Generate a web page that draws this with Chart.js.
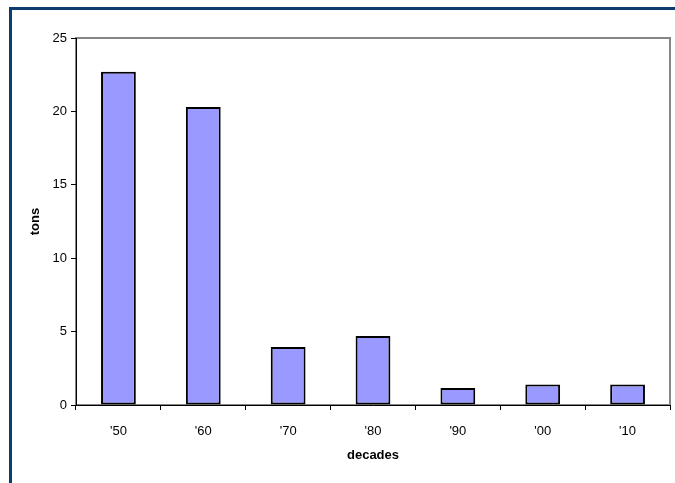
<!DOCTYPE html>
<html>
<head>
<meta charset="utf-8">
<script src="https://cdn.jsdelivr.net/npm/chart.js@4"></script>
<style>
  html, body { margin: 0; padding: 0; background: #fff; }
  #wrap { position: relative; width: 675px; height: 483px; overflow: hidden; }
  #frame { position: absolute; left: 9px; top: 7px; width: 700px; height: 500px;
           border-top: 3px solid #0b3c6e; border-left: 3px solid #0b3c6e; }
  canvas { position: absolute; left: 0; top: 0; }
</style>
</head>
<body>
<div id="wrap">
  <div id="frame"></div>
  <canvas id="chart" width="675" height="483"></canvas>
</div>
<script>
// ===== data =====
const decades = ["'50", "'60", "'70", "'80", "'90", "'00", "'10"];
const tons = [22.7, 20.3, 3.95, 4.7, 1.15, 1.4, 1.4];
const yTicks = [0, 5, 10, 15, 20, 25];

// gray box round the plot area (top + right edges show)
const plotBox = {
  id: "plotBox",
  beforeDraw(chart) {
    const { ctx, chartArea: a } = chart;
    ctx.save();
    ctx.strokeStyle = "#868686";
    ctx.lineWidth = 2;
    ctx.strokeRect(a.left, a.top, a.right - a.left, a.bottom - a.top);
    ctx.restore();
  }
};

const font = { family: "Liberation Sans, Arial, sans-serif", size: 13 };

new Chart(document.getElementById("chart"), {
  type: "bar",
  data: {
    labels: decades,
    datasets: [{
      data: tons,
      backgroundColor: "#9999ff",
      borderColor: "#000",
      borderWidth: 2,
      borderSkipped: false,
      barPercentage: 0.41,
      categoryPercentage: 1
    }]
  },
  options: {
    responsive: false,
    animation: false,
    layout: { padding: { left: 26, top: 38, right: 5, bottom: 0 } },
    plugins: { legend: { display: false }, tooltip: { enabled: false } },
    scales: {
      x: {
        offset: true,
        afterFit(s) { s.height = 78; },
        grid: { offset: true, drawOnChartArea: false, drawTicks: true, tickLength: 5, color: "#000" },
        border: { color: "#000", width: 1 },
        ticks: { color: "#000", font, padding: 14 },
        title: { display: true, text: "decades", color: "#000",
                 font: { family: font.family, size: 13, weight: "bold" }, padding: { top: 0, bottom: 20 } }
      },
      y: {
        min: 0, max: 25,
        afterFit(s) { s.width = 50; },
        afterBuildTicks(s) { s.ticks = yTicks.map(v => ({ value: v })); },
        grid: { drawOnChartArea: false, drawTicks: true, tickLength: 5, color: "#000" },
        border: { color: "#000", width: 1 },
        ticks: { color: "#000", font, padding: 4 },
        title: { display: true, text: "tons", color: "#000",
                 font: { family: font.family, size: 13, weight: "bold" }, padding: { top: 2, bottom: 0 } }
      }
    }
  },
  plugins: [plotBox]
});
</script>
</body>
</html>
